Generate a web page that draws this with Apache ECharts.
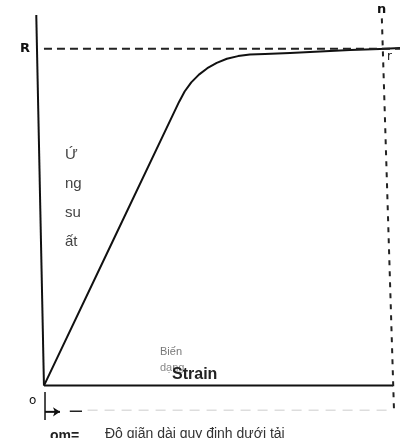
<!DOCTYPE html>
<html>
<head>
<meta charset="utf-8">
<script src="https://cdn.jsdelivr.net/npm/echarts@6/dist/echarts.min.js"></script>
<style>
  html, body { margin: 0; padding: 0; background: #fff; }
  #chart { width: 400px; height: 438px; }
</style>
</head>
<body>
<div id="chart"></div>
<script>
// strain (x) / stress (y), R = 100
var strain = [0, 20, 38.7, 40.3, 42.2, 44.4, 46.8, 49.5, 52.4, 55.6, 59.0, 63.3, 70.5, 79.1, 87.7, 96.3, 102];
var stress = [0, 43.5, 84.2, 87.3, 90.0, 92.3, 94.2, 95.8, 97.0, 97.8, 98.3, 98.4, 98.7, 99.2, 99.6, 99.9, 100.2];

// axes as drawn in the scan
var yAxisX = [0, -2.2];
var yAxisY = [0, 110];
var xAxisX = [0, 100];
var xAxisY = [0, 0];

// guide lines
var rLineX = [0, 102];
var rLineY = [100, 100];
var nLineX = [96.8, 100.3];
var nLineY = [109, -8];
var omLineX = [12.5, 99.5];
var omLineY = [-7.3, -7.3];
var omDashX = [7.4, 10.9];
var omDashY = [-7.6, -7.6];
var arrowX = [0.3, 4.6];
var arrowY = [-7.8, -7.8];
var tickX = [0.3, 0.3];
var tickY = [-1.9, -10.2];

function pts(xs, ys) {
  return xs.map(function (x, i) { return [x, ys[i]]; });
}

function seg(xs, ys, style) {
  return {
    type: "line",
    data: pts(xs, ys),
    symbol: "none",
    silent: true,
    animation: false,
    lineStyle: style,
  };
}

const chart = echarts.init(document.getElementById("chart"));
var option = {
  backgroundColor: "#fff",
  grid: { left: 30, right: 0, top: 15, bottom: 12 },
  xAxis: { type: "value", min: -4, max: 102, show: false },
  yAxis: { type: "value", min: -12, max: 110, show: false },
  series: [
    {
      type: "line",
      data: pts(strain, stress),
      smooth: false,
      symbol: "none",
      animation: false,
      lineStyle: { color: "#111", width: 2, join: "round" },
    },
    seg(yAxisX, yAxisY, { color: "#111", width: 2 }),
    seg(xAxisX, xAxisY, { color: "#111", width: 2 }),
    seg(rLineX, rLineY, { color: "#222", width: 2, type: [8, 5] }),
    seg(nLineX, nLineY, { color: "#222", width: 2, type: [5, 6] }),
    seg(omLineX, omLineY, { color: "#ccc", width: 1, type: [10, 7] }),
    seg(omDashX, omDashY, { color: "#222", width: 1.5 }),
    seg(tickX, tickY, { color: "#111", width: 1.5 }),
    {
      type: "line",
      data: pts(arrowX, arrowY),
      symbol: function (value, params) {
        return params.dataIndex === 1 ? "arrow" : "none";
      },
      symbolSize: [7, 7],
      symbolRotate: -90,
      silent: true,
      animation: false,
      lineStyle: { color: "#111", width: 2 },
      itemStyle: { color: "#111" },
    },
  ],
  graphic: [
    // white gap in the scanned line
    { type: "rect", shape: { x: 100, y: 248, width: 14, height: 17 }, style: { fill: "#fff" } },
    { type: "text", left: 20, top: 42, style: { text: "R", font: "bold 13px 'DejaVu Sans'", fill: "#111" } },
    { type: "text", left: 377, top: 3, style: { text: "n", font: "bold 13px 'DejaVu Sans'", fill: "#111" } },
    { type: "text", left: 387, top: 51, style: { text: "r", font: "12px 'DejaVu Sans'", fill: "#111" } },
    { type: "text", left: 29, top: 395, style: { text: "o", font: "12px 'DejaVu Sans'", fill: "#111" } },
    {
      type: "text", left: 65, top: 140,
      style: { text: "Ứ\nng\nsu\nất", font: "15px 'Liberation Sans'", lineHeight: 29, fill: "#444" },
    },
    { type: "text", left: 160, top: 346, style: { text: "Biến", font: "11px 'Liberation Sans'", fill: "#777" } },
    { type: "text", left: 160, top: 362, style: { text: "dạng", font: "11px 'Liberation Sans'", fill: "#888" } },
    { type: "text", left: 172, top: 367, style: { text: "Strain", font: "bold 16px 'Liberation Sans'", fill: "#222" } },
    { type: "text", left: 50, top: 429, style: { text: "om=", font: "bold 14px 'Liberation Sans'", fill: "#222" } },
    { type: "text", left: 105, top: 427, style: { text: "Độ giãn dài quy định dưới tải", font: "14px 'Liberation Sans'", fill: "#333" } },
  ],
};
chart.setOption(option);
window.onresize = chart.resize;
</script>
</body>
</html>
